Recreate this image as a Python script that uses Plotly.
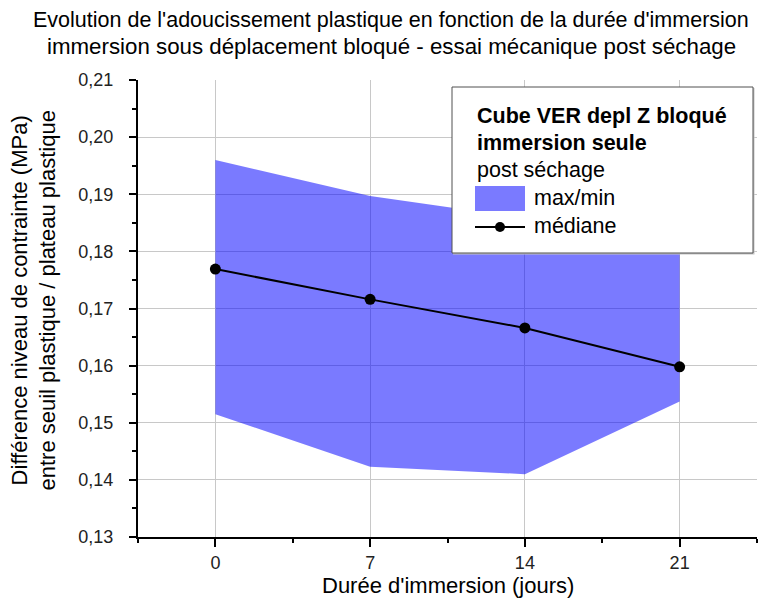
import plotly.graph_objects as go

# Durée d'immersion (jours) et différences de contrainte (MPa)
jours = [0, 7, 14, 21]
mediane = [0.1769, 0.1716, 0.1666, 0.1598]
maximum = [0.1960, 0.1897, 0.1858, 0.1835]
minimum = [0.1515, 0.1423, 0.1410, 0.1537]

titre = ["Evolution de l'adoucissement plastique en fonction de la durée d'immersion",
         "immersion sous déplacement bloqué - essai mécanique post séchage"]
titre_x = "Durée d'immersion (jours)"
titre_y = "Différence niveau de contrainte (MPa)<br>entre seuil plastique / plateau plastique"
legende_titre = ["Cube VER depl Z bloqué", "immersion seule", "post séchage"]
legende_items = ["max/min", "médiane"]

W, H = 777, 601
ML, MR, MT, MB = 138, 20, 80, 64
PW, PH = W - ML - MR, H - MT - MB

FONT = "Arial, Liberation Sans, sans-serif"
FILL = "rgba(0,0,255,0.52)"


def px(x):
    return (x - ML) / PW


def py(y):
    return (H - MB - y) / PH


fig = go.Figure()

fig.add_trace(go.Scatter(x=jours, y=maximum, mode="lines", line=dict(width=0),
                         showlegend=False, hoverinfo="skip"))
fig.add_trace(go.Scatter(x=jours, y=minimum, mode="lines", line=dict(width=0),
                         fill="tonexty", fillcolor=FILL, showlegend=False))
fig.add_trace(go.Scatter(x=jours, y=mediane, mode="lines+markers",
                         line=dict(color="black", width=2),
                         marker=dict(color="black", size=11), showlegend=False))

# Cadre de légende (ombre + boîte) et échantillons
shapes = [
    dict(type="rect", xref="paper", yref="paper", x0=px(453), x1=px(754.5), y0=py(88), y1=py(254.5),
         fillcolor="#c4c4c4", line=dict(width=0), layer="above"),
    dict(type="rect", xref="paper", yref="paper", x0=px(452), x1=px(753), y0=py(87), y1=py(253),
         fillcolor="white", line=dict(color="#505050", width=1), layer="above"),
    dict(type="rect", xref="paper", yref="paper", x0=px(475), x1=px(525), y0=py(186), y1=py(211),
         fillcolor=FILL, line=dict(width=0), layer="above"),
    dict(type="line", xref="paper", yref="paper", x0=px(475), x1=px(525), y0=py(227), y1=py(227),
         line=dict(color="black", width=2), layer="above"),
    dict(type="circle", xref="paper", yref="paper", x0=px(495), x1=px(505), y0=py(222), y1=py(232),
         fillcolor="black", line=dict(width=0), layer="above"),
]

annotations = [
    dict(text="<b>%s</b>" % legende_titre[0], x=px(475), y=py(116)),
    dict(text="<b>%s</b>" % legende_titre[1], x=px(475), y=py(143)),
    dict(text=legende_titre[2], x=px(475), y=py(170)),
    dict(text=legende_items[0], x=px(532), y=py(198)),
    dict(text=legende_items[1], x=px(532), y=py(226)),
]
for a in annotations:
    a.update(xref="paper", yref="paper", xanchor="left", yanchor="middle", showarrow=False,
             font=dict(family=FONT, size=21.5, color="black"))

# Titre sur deux lignes
for ligne, yc, taille in zip(titre, [20, 47], [21.5, 22.3]):
    annotations.append(dict(text=ligne, xref="paper", yref="paper", x=px(391), y=py(yc),
                            xanchor="center", yanchor="middle", showarrow=False,
                            font=dict(family=FONT, size=taille, color="black")))

annotations.append(dict(text=titre_y, xref="paper", yref="paper", x=px(33.5), y=py(301),
                        textangle=-90, showarrow=False, xanchor="center", yanchor="middle",
                        font=dict(family=FONT, size=22, color="black")))
annotations.append(dict(text=titre_x, xref="paper", yref="paper", x=px(447.5), y=py(585),
                        showarrow=False, xanchor="center", yanchor="middle",
                        font=dict(family=FONT, size=22, color="black")))

fig.update_layout(
    width=W, height=H,
    margin=dict(l=ML, r=MR, t=MT, b=MB),
    paper_bgcolor="white", plot_bgcolor="white",
    separators=", ",
    font=dict(family=FONT, color="black"),
    shapes=shapes,
    annotations=annotations,
    xaxis=dict(
        range=[-3.5, 24.5], tickmode="linear", tick0=0, dtick=7,
        showline=True, linecolor="black", linewidth=2,
        ticks="outside", ticklen=8, tickwidth=2, tickcolor="black",
        tickfont=dict(family=FONT, size=18, color="#222"),
        showgrid=True, gridcolor="#c8c8c8", gridwidth=1, zeroline=False,
        minor=dict(tick0=0, dtick=3.5, ticks="outside", ticklen=4, tickwidth=2,
                   tickcolor="black", showgrid=False),
    ),
    yaxis=dict(
        range=[0.13, 0.21], tickmode="linear", tick0=0.13, dtick=0.01, tickformat=".2f",
        showline=True, linecolor="black", linewidth=2,
        ticks="outside", ticklen=7, tickwidth=2, tickcolor="black",
        tickfont=dict(family=FONT, size=18, color="#222"), ticklabelstandoff=12,
        showgrid=True, gridcolor="#c8c8c8", gridwidth=1, zeroline=False,
        minor=dict(tick0=0.13, dtick=0.005, ticks="outside", ticklen=4, tickwidth=2,
                   tickcolor="black", showgrid=False),
    ),
)

fig.write_html("out.html")
